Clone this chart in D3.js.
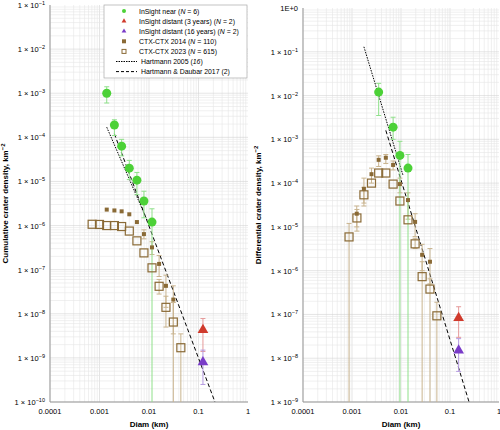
<!DOCTYPE html><html><head><meta charset="utf-8">
<script src="https://cdn.jsdelivr.net/npm/d3@7"></script>
<style>body{margin:0;background:#fff}text{font-family:"Liberation Sans",Arial,sans-serif}</style></head><body>
<svg id="c" width="500" height="430"></svg>
<script>
// ---- data (diameter km, density km^-2, errLo, errHi) ----
const cumNear=[[0.0014,1e-3,6e-4,1.4e-3],[0.002,1.9e-4,1.1e-4,2.5e-4],[0.0028,6.3e-5,3.8e-5,9e-5],[0.004,2e-5,1.1e-5,3e-5],[0.0057,1.07e-5,5e-6,1.6e-5],[0.0079,3.6e-6,1.5e-6,6e-6],[0.0115,1.2e-6,1e-10,2.4e-6]];
const cum2014=[[0.0014,2.3e-6],[0.002,2.2e-6],[0.0028,2.1e-6],[0.004,1.8e-6],[0.0057,1.2e-6],[0.0079,6.4e-7,5e-7,8e-7],[0.0115,3.2e-7,2.2e-7,4.3e-7],[0.016,1.35e-7,7e-8,2.1e-7],[0.022,4.3e-8,1.4e-8,7.5e-8],[0.031,2.1e-8,3.5e-9,4.3e-8]];
const cum2023=[[0.00071,1.07e-6],[0.001,1.06e-6],[0.0014,1.0e-6],[0.002,1.0e-6],[0.0028,9.5e-7],[0.004,7.5e-7],[0.0057,4.5e-7],[0.0079,2.4e-7],[0.0115,1.1e-7],[0.016,4.2e-8,2.8e-8,6e-8],[0.022,1.4e-8,5e-9,2.5e-8],[0.031,6.5e-9,1e-10,1.8e-8],[0.044,1.7e-9,1e-10,3.5e-9]];
const cumRed=[[0.123,4.3e-9,1.4e-9,7.8e-9]];
const cumPurple=[[0.123,8e-10,2.5e-10,1.5e-9]];
const cumH05=[[0.0014,1.7e-4],[0.0095,1.2e-6]];
const cumHD17=[[0.002,1.2e-4],[0.215,1e-10]];

const difNear=[[0.0035,1.2e-2,3.5e-3,1.9e-2],[0.0069,1.9e-3,1e-3,3.2e-3],[0.0095,4.3e-4,1e-9,9e-4],[0.0139,2.2e-4,1e-9,4.5e-4]];
const dif2014=[[0.00125,2e-5,1e-5,3e-5],[0.00175,7.4e-5,3.5e-5,1.3e-4],[0.0025,1.6e-4,1e-4,2.2e-4],[0.0035,3.4e-4,2.4e-4,4.2e-4],[0.0049,3.8e-4,2.8e-4,4.5e-4],[0.0069,2.6e-4,2e-4,3.2e-4],[0.0095,9.5e-5,6e-5,1.3e-4],[0.0139,4.1e-5,1.5e-5,6e-5],[0.0194,1.3e-5,6e-6,2e-5],[0.027,2.3e-6,1e-6,4e-6],[0.039,1.6e-6,5e-7,3.2e-6]];
const dif2023=[[0.00087,5.9e-6,1e-9,1.2e-5],[0.00126,1.6e-5,8e-6,2.5e-5],[0.00175,5.4e-5,3e-5,8e-5],[0.0025,1.0e-4],[0.0035,1.7e-4],[0.0049,1.7e-4],[0.0069,9.5e-5],[0.0095,3.9e-5],[0.0139,1.45e-5],[0.0194,4.1e-6,3.2e-6,5.5e-6],[0.027,7.3e-7,1e-9,1.6e-6],[0.039,3.8e-7,1e-9,6.5e-7],[0.054,9.3e-8,1e-9,1.9e-7]];
const difRed=[[0.15,8.3e-8,3e-8,1.5e-7]];
const difPurple=[[0.15,1.5e-8,5e-9,2.8e-8]];
const difH05=[[0.00175,0.13],[0.011,1.5e-4]];
const difHD17=[[0.0049,1.6e-3],[0.245,1e-9]];

const legendLabels=[["InSight near (","N"," = 6)"],["InSight distant (3 years) (","N"," = 2)"],["InSight distant (16 years) (","N"," = 2)"],["CTX-CTX 2014 (","N"," = 110)"],["CTX-CTX 2023 (","N"," = 615)"],["Hartmann 2005 (","16",")"],["Hartmann & Daubar 2017 (2)","",""]];
const xTicks=[0.0001,0.001,0.01,0.1,1];

const C={green:"#4cd137",greenE:"#8fe08a",red:"#d03a2c",redE:"#e59a9a",pur:"#7a3cc8",purE:"#b49ae0",brown:"#8a6a36",brownE:"#c9b48f"};
const svg=d3.select("#c");

function panel(o){
  const g=svg.append("g");
  const x=d3.scaleLog().domain([1e-4,1]).range([o.x0,o.x1]);
  const y=d3.scaleLog().domain([Math.pow(10,o.ylo),Math.pow(10,o.yhi)]).range([o.y1,o.y0]);
  for(let e=-4;e<0;e++)for(let m=1;m<10;m++){const v=m*Math.pow(10,e);
    g.append("line").attr("x1",x(v)).attr("x2",x(v)).attr("y1",o.y0).attr("y2",o.y1).attr("stroke",m==1?"#d4d4d4":"#e6e6e6").attr("stroke-width",0.6);}
  for(let e=o.ylo;e<o.yhi;e++)for(let m=1;m<10;m++){const v=m*Math.pow(10,e);
    g.append("line").attr("x1",o.x0).attr("x2",o.x1).attr("y1",y(v)).attr("y2",y(v)).attr("stroke",m==1?"#d4d4d4":"#e6e6e6").attr("stroke-width",0.6);}
  g.append("line").attr("x1",o.x0).attr("x2",o.x0).attr("y1",o.y0).attr("y2",o.y1).attr("stroke","#999");
  g.append("line").attr("x1",o.x0).attr("x2",o.x1).attr("y1",o.y1).attr("y2",o.y1).attr("stroke","#999");
  xTicks.forEach(t=>g.append("text").attr("x",x(t)).attr("y",o.y1+12).attr("text-anchor","middle").attr("font-size",7.5).text(t));
  g.append("text").attr("x",x(0.01)).attr("y",o.y1+25).attr("text-anchor","middle").attr("font-size",8).attr("font-weight","bold").text("Diam (km)");
  for(let e=o.ylo;e<=o.yhi;e++){
    const t=g.append("text").attr("x",o.x0-5).attr("y",y(Math.pow(10,e))+3).attr("text-anchor","end").attr("font-size",7.5);
    if(e==0){t.text("1E+0");continue;}
    t.append("tspan").text("1 × 10");
    t.append("tspan").attr("dy",-3).attr("font-size",5.5).text("−"+(-e));
  }
  const yl=g.append("text").attr("transform",`translate(${o.x0-42},${(o.y0+o.y1)/2}) rotate(-90)`).attr("text-anchor","middle").attr("font-size",8).attr("font-weight","bold");
  yl.append("tspan").text(o.ylab+", km");yl.append("tspan").attr("dy",-3).attr("font-size",6).text("−2");
  const ln=d3.line().x(d=>x(d[0])).y(d=>y(d[1]));
  g.append("path").attr("d",ln(o.h05)).attr("stroke","#000").attr("fill","none").attr("stroke-width",1).attr("stroke-dasharray","1.5,1.2");
  g.append("path").attr("d",ln(o.hd)).attr("stroke","#000").attr("fill","none").attr("stroke-width",1).attr("stroke-dasharray","4,2.5");
  const cl=v=>Math.max(v,Math.pow(10,o.ylo));
  function err(data,col){data.filter(d=>d.length>2).forEach(d=>{
    const X=x(d[0]);g.append("line").attr("x1",X).attr("x2",X).attr("y1",y(cl(d[2]))).attr("y2",y(d[3])).attr("stroke",col).attr("stroke-width",1);
    [d[2],d[3]].forEach(v=>{if(v>Math.pow(10,o.ylo))g.append("line").attr("x1",X-2.5).attr("x2",X+2.5).attr("y1",y(v)).attr("y2",y(v)).attr("stroke",col).attr("stroke-width",1);});});}
  err(o.c14,C.brownE);err(o.c23,C.brownE);err(o.near,C.greenE);err(o.red,C.redE);err(o.pur,C.purE);
  o.c23.forEach(d=>g.append("rect").attr("x",x(d[0])-4).attr("y",y(d[1])-4).attr("width",8).attr("height",8).attr("fill","none").attr("stroke",C.brown).attr("stroke-width",1.2));
  o.c14.forEach(d=>g.append("rect").attr("x",x(d[0])-2).attr("y",y(d[1])-2).attr("width",4).attr("height",4).attr("fill",C.brown));
  o.near.forEach(d=>g.append("circle").attr("cx",x(d[0])).attr("cy",y(d[1])).attr("r",4.5).attr("fill",C.green));
  const tri=d3.symbol().type(d3.symbolTriangle).size(50);
  o.red.forEach(d=>g.append("path").attr("d",tri()).attr("transform",`translate(${x(d[0])},${y(d[1])})`).attr("fill",C.red));
  o.pur.forEach(d=>g.append("path").attr("d",tri()).attr("transform",`translate(${x(d[0])},${y(d[1])})`).attr("fill",C.pur));
}
panel({x0:50,x1:248,y0:5,y1:402,ylo:-10,yhi:-1,ylab:"Cumulative crater density",near:cumNear,c14:cum2014,c23:cum2023,red:cumRed,pur:cumPurple,h05:cumH05,hd:cumHD17});
panel({x0:303,x1:499,y0:8,y1:402,ylo:-9,yhi:0,ylab:"Differential crater density",near:difNear,c14:dif2014,c23:dif2023,red:difRed,pur:difPurple,h05:difH05,hd:difHD17});

const L=svg.append("g");
L.append("rect").attr("x",104).attr("y",5).attr("width",143).attr("height",73).attr("fill","#fff").attr("stroke","#aaa").attr("stroke-width",0.7);
legendLabels.forEach((lab,i)=>{
  const yy=11+i*10.1,mx=124;
  if(i==0)L.append("circle").attr("cx",mx).attr("cy",yy).attr("r",2).attr("fill",C.green);
  if(i==1||i==2)L.append("path").attr("d",d3.symbol().type(d3.symbolTriangle).size(10)()).attr("transform",`translate(${mx},${yy})`).attr("fill",i==1?C.red:C.pur);
  if(i==3)L.append("rect").attr("x",mx-2).attr("y",yy-2).attr("width",4).attr("height",4).attr("fill",C.brown);
  if(i==4)L.append("rect").attr("x",mx-2).attr("y",yy-2).attr("width",4).attr("height",4).attr("fill","none").attr("stroke",C.brown);
  if(i==5)L.append("line").attr("x1",116).attr("x2",137).attr("y1",yy).attr("y2",yy).attr("stroke","#000").attr("stroke-dasharray","1.5,1");
  if(i==6)L.append("line").attr("x1",116).attr("x2",137).attr("y1",yy).attr("y2",yy).attr("stroke","#000").attr("stroke-dasharray","3,2");
  const t=L.append("text").attr("x",i>=5?141:139).attr("y",yy+2.5).attr("font-size",6.9);
  t.append("tspan").text(lab[0]);
  if(lab[1])t.append("tspan").attr("font-style","italic").text(lab[1]);
  if(lab[2])t.append("tspan").text(lab[2]);
});
</script></body></html>
